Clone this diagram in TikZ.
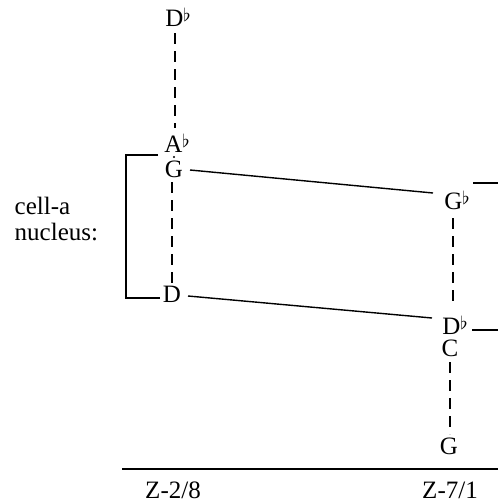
\documentclass[tikz,border=0pt]{standalone}
\usepackage{fontspec}
\setmainfont{Liberation Serif}
\newcommand{\fl}{\raisebox{0.45ex}{\small$\flat$}}

\begin{document}
\begin{tikzpicture}[x=0.5pt, y=-0.5pt, line width=0.7pt,
  every node/.style={inner sep=1pt, font=\fontsize{12.5}{14}\selectfont},
  tie/.style={line width=0.6pt, dash pattern=on 5.5pt off 3.5pt}]

\path[use as bounding box] (0,0) rectangle (498,504);

% left column (Z-2/8)
\node (db1) at (178,17) {D\fl};
\node (ab1) at (177,143) {A\fl};
\node (g1)  at (174,169) {G};
\fill (174,157) circle (1.1);
\node (d1)  at (172,294) {D};

% right column (Z-7/1)
\node (gb2) at (457,200) {G\fl};
\node (db2) at (455,325) {D\fl};
\node (c2)  at (450,348) {C};
\node (g2)  at (449,446) {G};

% label
\node[align=left, anchor=north west, inner sep=0pt] (lab) at (14,196) {cell-a\\[-1pt]nucleus:};

% free ends at the right edge
\coordinate (e1) at (498,183);
\coordinate (e2) at (498,330);

% dashed ties
\draw[tie] (175,33) -- (175,128);
\draw[tie] (172,182) -- (172,284);
\draw[tie] (453,218) -- (453,304);
\draw[tie] (450,362) -- (450,434);

% bracket
\draw (158,155) -- (126,155) -- (126,298) -- (160,298);

% connections
\draw (190,170) -- (433,193);
\draw (188,296) -- (432,318);
\draw (473,183) -- (e1);
\draw (472,330) -- (e2);

% baseline and labels
\draw (122,469) -- (498,469);
\node (z1) at (173,490) {Z-2/8};
\node (z2) at (450,490) {Z-7/1};
\end{tikzpicture}
\end{document}
